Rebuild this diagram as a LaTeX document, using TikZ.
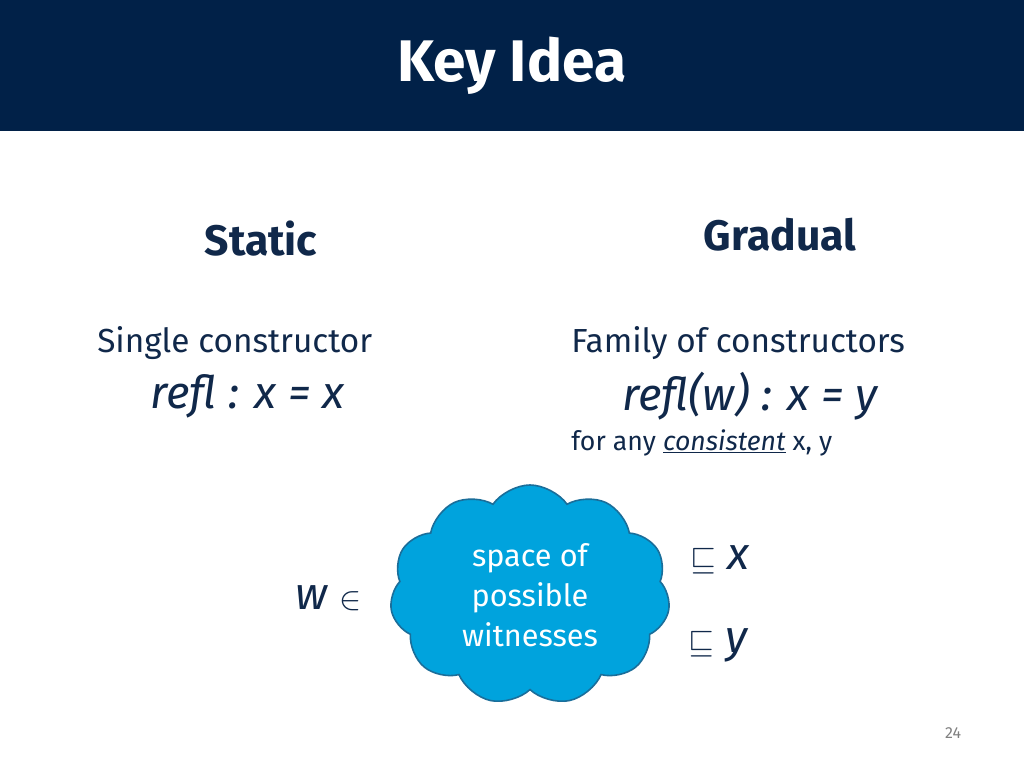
\documentclass[tikz,border=0pt]{standalone}
\usepackage{fontspec}
\setmainfont{Fira Sans}
\usetikzlibrary{shapes.symbols}
\definecolor{navy}{HTML}{012148}
\definecolor{txt}{HTML}{10284A}
\definecolor{cloudfill}{HTML}{00A3DD}
\definecolor{cloudline}{HTML}{1A6E9A}
\begin{document}
\begin{tikzpicture}[x=0.75pt,y=-0.75pt,
  body/.style={text=txt,font=\fontsize{25}{30}\selectfont,inner sep=0pt},
  head/.style={text=txt,font=\fontsize{32}{38}\selectfont\bfseries,inner sep=0pt},
  formula/.style={text=txt,font=\fontsize{34}{40}\selectfont\itshape,inner sep=0pt}]
\useasboundingbox (0,0) rectangle (1024,768);
\fill[white] (0,0) rectangle (1024,768);
\fill[navy] (0,0) rectangle (1024,131);
\node[text=white,font=\fontsize{44}{50}\selectfont\bfseries] (title) at (512,66) {Key Idea};
\node[head] (static) at (261,239) {Static};
\node[head] (gradual) at (780,235) {Gradual};
\node[body,anchor=west] (single) at (97,343) {Single constructor};
\node[formula,anchor=west] (refl) at (150,396) {refl : x = x};
\node[body,anchor=west] (family) at (571,343) {Family of constructors};
\node[formula,anchor=west] (reflw) at (622,396) {refl(w) : x = y};
\node[body,anchor=west,font=\fontsize{20}{24}\selectfont] (any) at (571,443) {for any \underline{\itshape consistent} x, y};
\node[cloud,cloud puffs=11,cloud puff arc=110,aspect=1.25,draw=cloudline,line width=1.2pt,fill=cloudfill,
  minimum width=280\pgflinewidth,text=white,font=\fontsize{23}{30}\selectfont,align=center,
  minimum width=210pt,minimum height=165pt,inner sep=0pt] (cloud) at (530,595) {space of\\possible\\witnesses};
\node[formula,anchor=east] (w) at (362,598) {w $\in$};
\node[formula,anchor=west] (sx) at (690,560) {$\sqsubseteq$ x};
\node[formula,anchor=west] (sy) at (688,645) {$\sqsubseteq$ y};
\node[text=gray,font=\fontsize{12}{14}\selectfont] (page) at (953,733) {24};
\end{tikzpicture}
\end{document}
